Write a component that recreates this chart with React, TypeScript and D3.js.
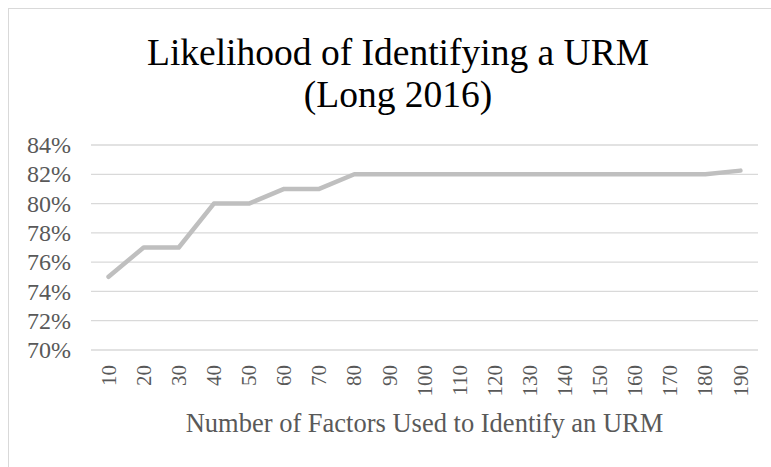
import React, { useEffect, useRef } from 'react';
import * as d3 from 'd3';

// number of factors used (x categories)
const factors = ['10', '20', '30', '40', '50', '60', '70', '80', '90', '100', '110', '120', '130', '140', '150', '160', '170', '180', '190'];
// likelihood of identifying a URM, in percent
const likelihood = [75, 77, 77, 80, 80, 81, 81, 82, 82, 82, 82, 82, 82, 82, 82, 82, 82, 82, 82.25];
const yTicks = [70, 72, 74, 76, 78, 80, 82, 84];

const titleLines = ['Likelihood of Identifying a URM', '(Long 2016)'];
const xTitle = 'Number of Factors Used to Identify an URM';

const App = () => {
  const ref = useRef<SVGSVGElement | null>(null);

  useEffect(() => {
    const width = 771;
    const height = 467;
    const margin = { top: 145, right: 13, bottom: 117, left: 91 };
    const innerW = width - margin.left - margin.right;
    const innerH = height - margin.top - margin.bottom;
    const font = "'Liberation Serif', 'Times New Roman', Times, 'DejaVu Serif', serif";

    const svg = d3.select(ref.current);
    svg.selectAll('*').remove();

    // chart border
    svg.append('rect')
      .attr('x', 8.5).attr('y', 8.5)
      .attr('width', width + 10).attr('height', height + 10)
      .attr('fill', '#fff')
      .attr('stroke', '#d9d9d9')
      .attr('stroke-width', 1);

    // title
    const title = svg.append('text')
      .attr('x', 398)
      .attr('y', 65)
      .attr('text-anchor', 'middle')
      .style('font-family', font)
      .style('font-size', '37.5px')
      .attr('fill', '#000');
    titleLines.forEach((t, i) => {
      title.append('tspan').attr('x', 398).attr('dy', i === 0 ? 0 : 42).text(t);
    });

    const g = svg.append('g').attr('transform', `translate(${margin.left},${margin.top})`);

    const x = d3.scaleBand<string>().domain(factors).range([0, innerW]);
    const y = d3.scaleLinear().domain([70, 84]).range([innerH, 0]);

    // grid lines
    g.append('g')
      .selectAll('line')
      .data(yTicks)
      .join('line')
      .attr('x1', 0).attr('x2', innerW)
      .attr('y1', d => y(d)).attr('y2', d => y(d))
      .attr('stroke', '#d9d9d9')
      .attr('stroke-width', 1.3);

    // y labels
    g.append('g')
      .selectAll('text')
      .data(yTicks)
      .join('text')
      .attr('x', -20)
      .attr('y', d => y(d))
      .attr('dy', '0.34em')
      .attr('text-anchor', 'end')
      .style('font-family', font)
      .style('font-size', '24px')
      .attr('fill', '#595959')
      .text(d => `${d}%`);

    // x labels, rotated
    g.append('g')
      .selectAll('text')
      .data(factors)
      .join('text')
      .attr('transform', d => `translate(${x(d)! + x.bandwidth() / 2},${innerH + 15}) rotate(-90)`)
      .attr('dy', '0.34em')
      .attr('text-anchor', 'end')
      .style('font-family', font)
      .style('font-size', '21px')
      .attr('fill', '#595959')
      .text(d => d);

    // axis title
    svg.append('text')
      .attr('x', margin.left + innerW / 2)
      .attr('y', 432)
      .attr('text-anchor', 'middle')
      .style('font-family', font)
      .style('font-size', '26.5px')
      .attr('fill', '#595959')
      .text(xTitle);

    const line = d3.line<number>()
      .x((d, i) => x(factors[i])! + x.bandwidth() / 2)
      .y(d => y(d));

    g.append('path')
      .datum(likelihood)
      .attr('fill', 'none')
      .attr('stroke', '#bfbfbf')
      .attr('stroke-width', 4.5)
      .attr('stroke-linecap', 'round')
      .attr('stroke-linejoin', 'round')
      .attr('d', line);
  }, []);

  return (
    <svg
      ref={ref}
      width={771}
      height={467}
      style={{ position: 'absolute', left: 0, top: 0, background: '#fff' }}
    />
  );
};

export default App;
